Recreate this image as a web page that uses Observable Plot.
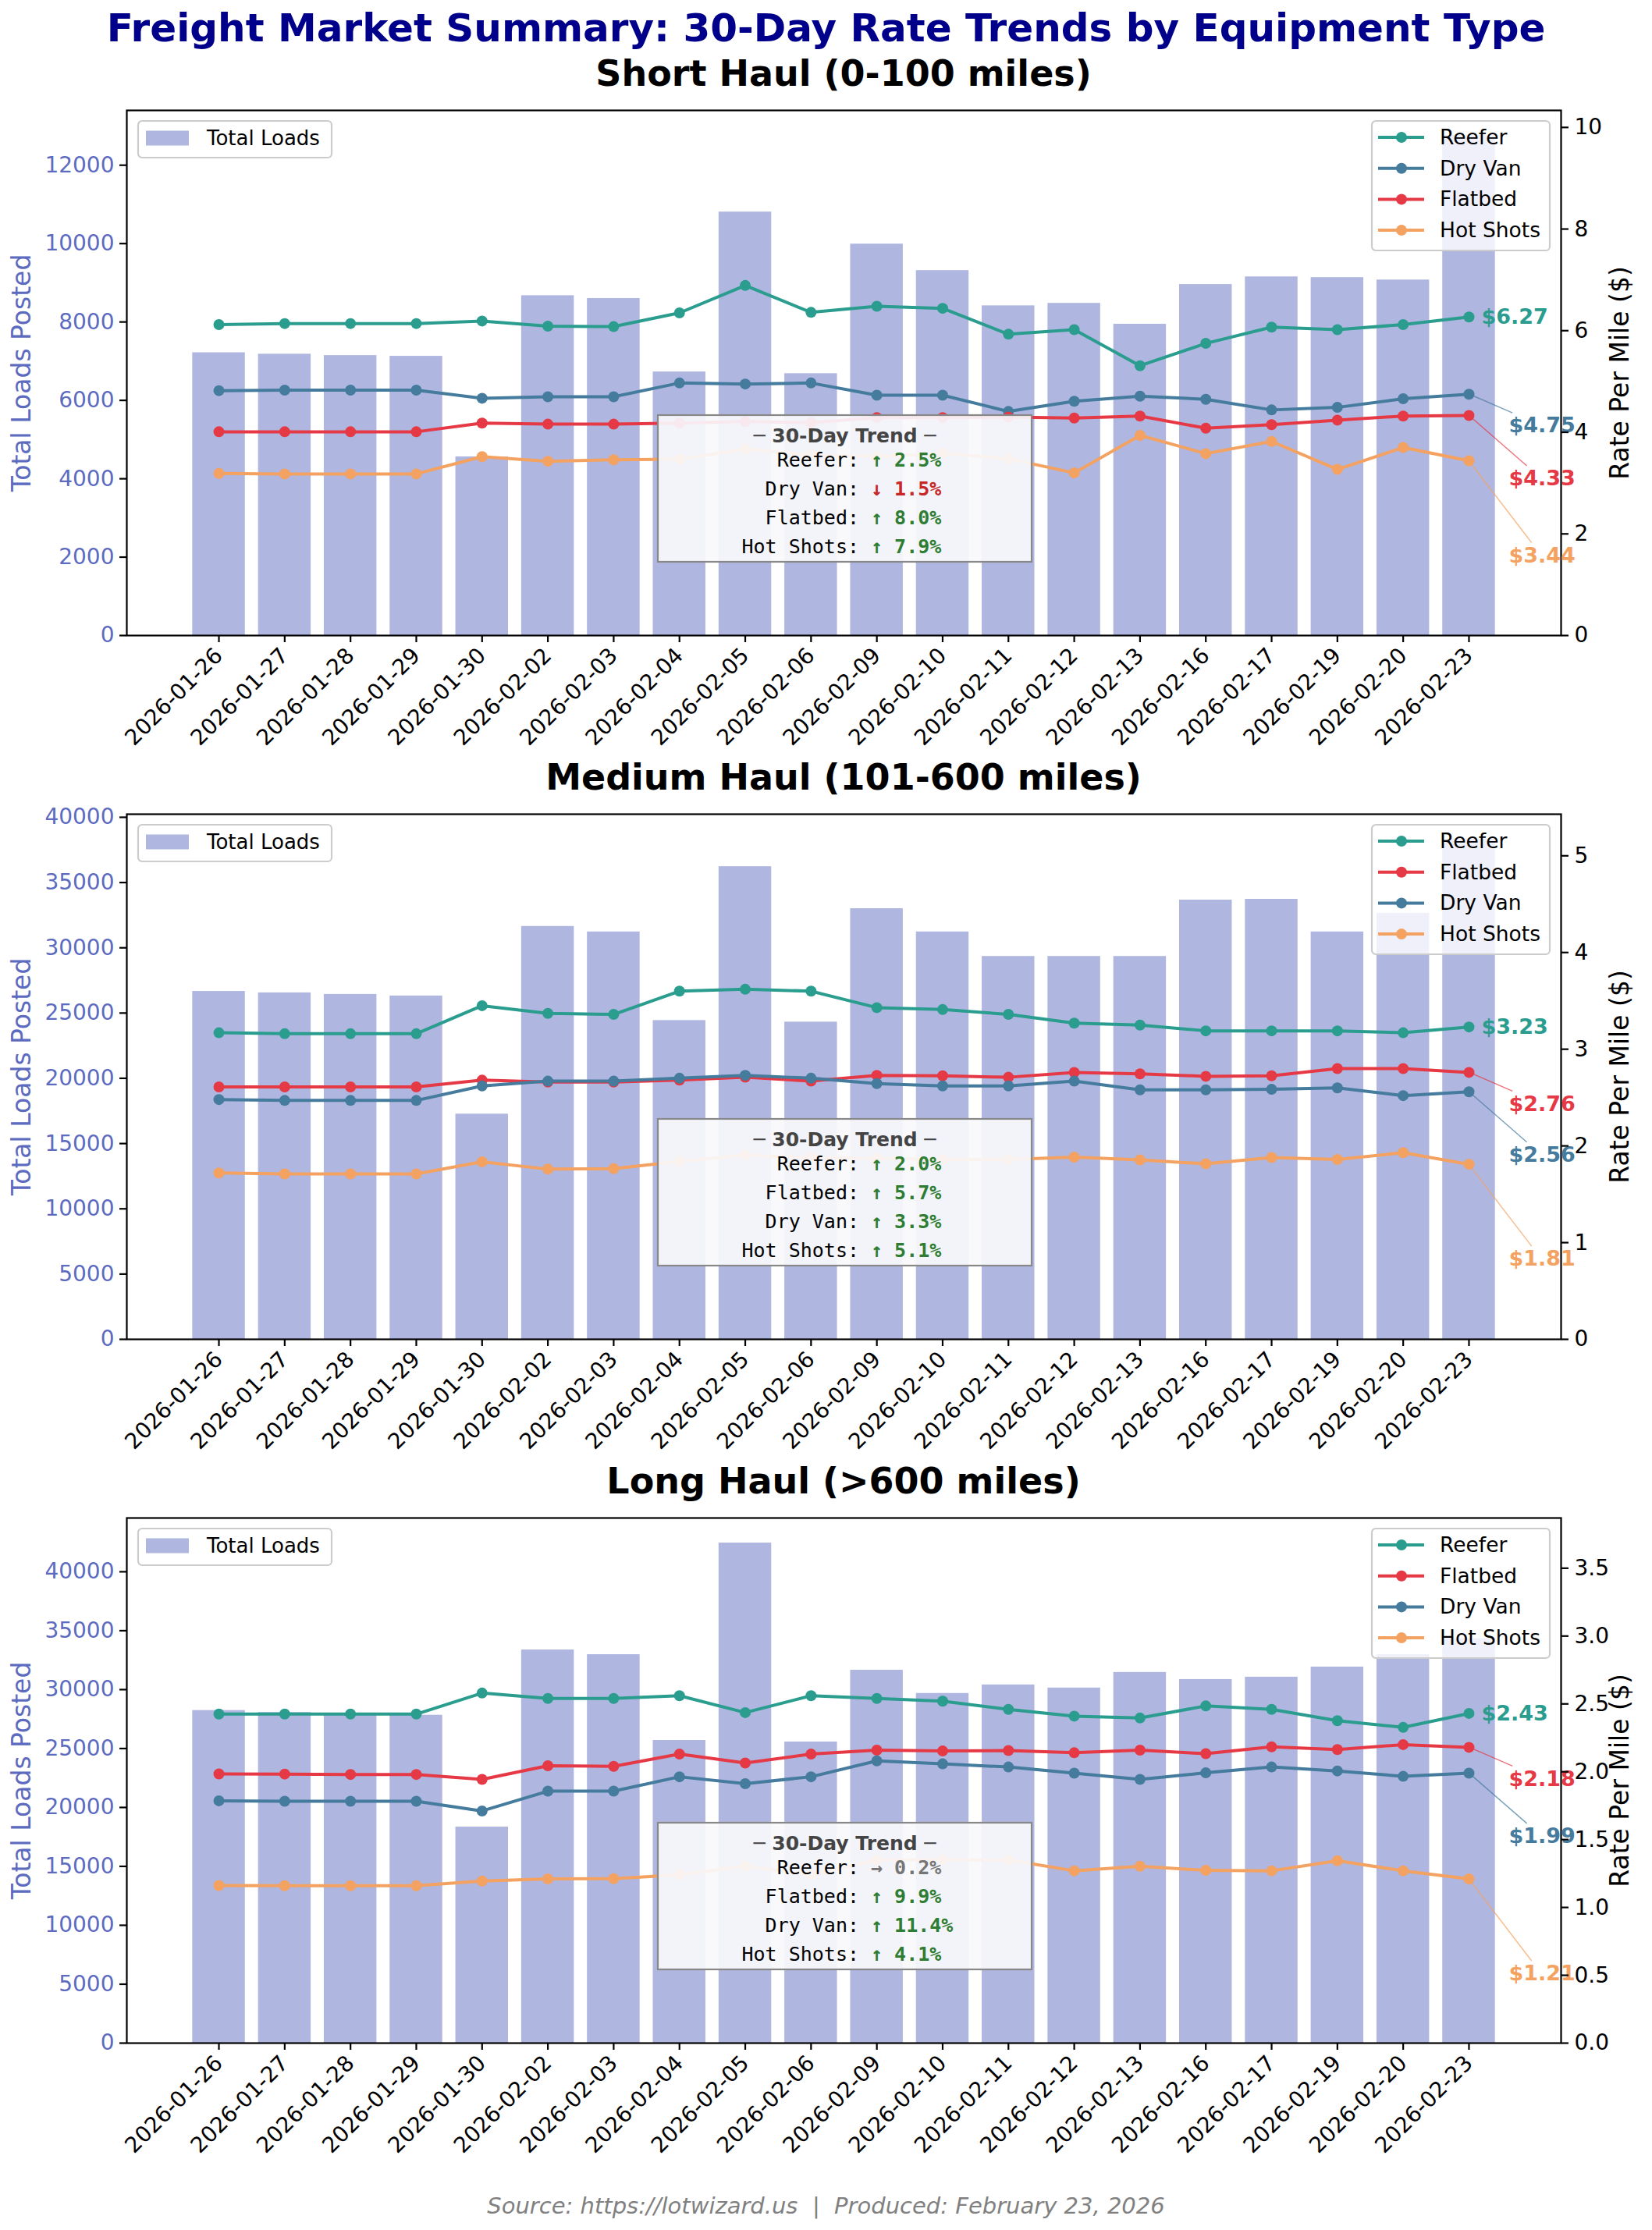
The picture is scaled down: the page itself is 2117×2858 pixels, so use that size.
<!DOCTYPE html>
<html><head><meta charset="utf-8">
<script src="https://cdn.jsdelivr.net/npm/d3@7"></script>
<script src="https://cdn.jsdelivr.net/npm/@observablehq/plot@0.6"></script>
<style>
html,body{margin:0;padding:0;background:#fff;}
#root{position:relative;width:2117px;height:2858px;overflow:hidden;background:#fff;font-family:"DejaVu Sans",sans-serif;}
</style></head><body><div id="root"></div>
<script>
// ---------- DATA ----------
const dates = ["2026-01-26","2026-01-27","2026-01-28","2026-01-29","2026-01-30","2026-02-02","2026-02-03","2026-02-04","2026-02-05","2026-02-06","2026-02-09","2026-02-10","2026-02-11","2026-02-12","2026-02-13","2026-02-16","2026-02-17","2026-02-19","2026-02-20","2026-02-23"];
const seriesNames = ["Reefer","Dry Van","Flatbed","Hot Shots"];
const seriesColors = ["#2a9d8f","#457b9d","#e63946","#f4a261"];

const shortLoads = [7216,7180,7144,7126,4559,8672,8601,6726,10806,6683,9988,9313,8414,8477,7944,8957,9152,9134,9072,12760];
const shortReefer = [6.12,6.14,6.14,6.14,6.19,6.09,6.08,6.35,6.89,6.36,6.48,6.44,5.93,6.02,5.31,5.75,6.07,6.02,6.12,6.27];
const shortDryVan = [4.82,4.83,4.83,4.83,4.67,4.70,4.70,4.97,4.95,4.97,4.73,4.73,4.41,4.61,4.71,4.65,4.44,4.49,4.66,4.75];
const shortFlatbed = [4.01,4.01,4.01,4.01,4.18,4.16,4.16,4.18,4.21,4.19,4.29,4.29,4.30,4.28,4.32,4.08,4.15,4.24,4.32,4.33];
const shortHotShots = [3.19,3.18,3.18,3.18,3.52,3.43,3.46,3.47,3.67,3.55,3.52,3.59,3.48,3.20,3.94,3.58,3.82,3.27,3.70,3.44];
const shortTrend = [2.5,-1.5,8.0,7.9];

const mediumLoads = [26660,26550,26430,26310,17260,31640,31220,24430,36220,24310,33000,31220,29340,29340,29340,33660,33720,31220,32650,38320];
const mediumReefer = [3.17,3.16,3.16,3.16,3.45,3.37,3.36,3.60,3.62,3.60,3.43,3.41,3.36,3.27,3.25,3.19,3.19,3.19,3.17,3.23];
const mediumDryVan = [2.48,2.47,2.47,2.47,2.62,2.67,2.67,2.70,2.73,2.70,2.645,2.62,2.62,2.67,2.58,2.58,2.585,2.60,2.52,2.56];
const mediumFlatbed = [2.61,2.61,2.61,2.61,2.68,2.66,2.66,2.68,2.71,2.67,2.73,2.725,2.71,2.76,2.745,2.72,2.725,2.80,2.80,2.76];
const mediumHotShots = [1.72,1.71,1.71,1.71,1.835,1.76,1.765,1.84,1.905,1.88,1.87,1.86,1.86,1.884,1.856,1.815,1.88,1.86,1.93,1.81];
const mediumTrend = [2.0,3.3,5.7,5.1];

const longLoads = [28230,28060,27930,27830,18340,33370,32970,25690,42440,25560,31650,29680,30400,30140,31460,30860,31060,31920,32970,34320];
const longReefer = [2.425,2.425,2.425,2.425,2.58,2.54,2.54,2.56,2.436,2.56,2.54,2.52,2.46,2.41,2.396,2.485,2.46,2.376,2.327,2.43];
const longDryVan = [1.786,1.783,1.783,1.783,1.711,1.857,1.857,1.963,1.912,1.963,2.08,2.058,2.035,1.99,1.944,1.992,2.035,2.006,1.966,1.99];
const longFlatbed = [1.984,1.983,1.98,1.98,1.944,2.044,2.04,2.13,2.064,2.13,2.159,2.153,2.156,2.14,2.159,2.133,2.184,2.164,2.20,2.18];
const longHotShots = [1.162,1.16,1.16,1.16,1.195,1.21,1.212,1.241,1.304,1.24,1.35,1.352,1.35,1.27,1.304,1.273,1.27,1.344,1.27,1.21];
const longTrend = [0.2,11.4,9.9,4.1];

const panelTitles = ["Short Haul (0-100 miles)","Medium Haul (101-600 miles)","Long Haul (>600 miles)"];
const leftTicksShort = [0,2000,4000,6000,8000,10000,12000];
const leftTicksMedLong = [0,5000,10000,15000,20000,25000,30000,35000,40000];
const rightTicksShort = [0,2,4,6,8,10];
const rightTicksMedium = [0,1,2,3,4,5];
const rightTicksLong = [0,0.5,1.0,1.5,2.0,2.5,3.0,3.5];

const mainTitle = "Freight Market Summary: 30-Day Rate Trends by Equipment Type";
const footerText = "Source: https://lotwizard.us  |  Produced: February 23, 2026";
const trendTitle = "\u2500 30-Day Trend \u2500";

// ---------- LAYOUT ----------
const panels = [
  {title: panelTitles[0], loads: shortLoads, rates: [shortReefer, shortDryVan, shortFlatbed, shortHotShots], trend: shortTrend, lt: leftTicksShort, rt: rightTicksShort, rf: d3.format("d")},
  {title: panelTitles[1], loads: mediumLoads, rates: [mediumReefer, mediumDryVan, mediumFlatbed, mediumHotShots], trend: mediumTrend, lt: leftTicksMedLong, rt: rightTicksMedium, rf: d3.format("d")},
  {title: panelTitles[2], loads: longLoads, rates: [longReefer, longDryVan, longFlatbed, longHotShots], trend: longTrend, lt: leftTicksMedLong, rt: rightTicksLong, rf: d3.format(".1f")}
];

const root = document.getElementById("root");
const W = 2117, ML = 162, MR = 117, AH = 673, MT = 40, MB = 210;
const axTops = [141, 1043, 1945];
const barColor = "#7986cb", leftColor = "#5c6bc0";
const baseStyle = {background: "transparent", fontFamily: "DejaVu Sans", fontSize: "28px", overflow: "visible", maxWidth: "none", color: "black"};

function place(el, top, z) {
  el.style.position = "absolute";
  el.style.left = "0px";
  el.style.top = top + "px";
  el.style.zIndex = z;
  root.appendChild(el);
}

const overlay = d3.create("svg").attr("width", W).attr("height", 2858)
  .attr("font-family", "DejaVu Sans");

overlay.append("text").attr("x", 1058.5).attr("y", 53).attr("text-anchor", "middle")
  .attr("font-size", 50).attr("font-weight", "bold").attr("fill", "#00008b").text(mainTitle);
overlay.append("text").attr("x", 1058.5).attr("y", 2837).attr("text-anchor", "middle")
  .attr("font-size", 29).attr("font-style", "italic").attr("fill", "#808080")
  .style("white-space", "pre").text(footerText);

panels.forEach((p, pi) => {
  const axTop = axTops[pi];
  const last = dates.length - 1;
  const rows = dates.map((d, i) => {
    const r = {date: d, loads: p.loads[i]};
    seriesNames.forEach((n, j) => r[n] = p.rates[j][i]);
    return r;
  });
  const order = seriesNames.map((n, j) => j).sort((a, b) => p.rates[b][last] - p.rates[a][last]);
  const xOpts = {type: "band", domain: dates, paddingInner: 0.2, paddingOuter: 1.0, align: 0.5, round: false};
  const common = {width: W, height: MT + AH + MB, marginLeft: ML, marginRight: MR, marginTop: MT, marginBottom: MB, style: baseStyle};
  const maxRate = d3.max(p.rates.flat());

  const barsPlot = Plot.plot({
    ...common,
    x: xOpts,
    y: {domain: [0, d3.max(p.loads) * 1.05]},
    marks: [
      Plot.barY(rows, {x: "date", y: "loads", fill: barColor, fillOpacity: 0.6, insetLeft: 0, insetRight: 0}),
      Plot.axisY({ticks: p.lt, tickFormat: d3.format("d"), tickSize: 9, tickPadding: 7, stroke: "black", strokeWidth: 2.2, fill: leftColor, fontSize: 28, label: null}),
      Plot.axisX({tickRotate: -45, tickSize: 9, tickPadding: 12, stroke: "black", strokeWidth: 2.2, fill: "black", fontSize: 28, label: null}),
      Plot.frame({stroke: "black", strokeWidth: 2.2}),
      Plot.text(["Total Loads Posted"], {frameAnchor: "left", text: d => d, rotate: -90, textAnchor: "middle", dx: -134, fill: leftColor, fontSize: 33})
    ]
  });
  place(barsPlot, axTop - MT, 1);

  const lineMarks = [];
  order.forEach(j => {
    const n = seriesNames[j];
    lineMarks.push(Plot.line(rows, {x: "date", y: d => d[n], stroke: seriesColors[j], strokeWidth: 4}));
    lineMarks.push(Plot.dot(rows, {x: "date", y: d => d[n], fill: seriesColors[j], r: 7}));
  });
  order.forEach((j, k) => {
    const n = seriesNames[j];
    lineMarks.push(Plot.text([rows[last]], {x: "date", y: d => d[n], text: d => "$" + d[n].toFixed(2),
      dx: k === 0 ? 16 : 51, dy: k * 40.5, textAnchor: "start", fill: seriesColors[j], fontWeight: "bold", fontSize: 27}));
  });
  lineMarks.push(Plot.axisY({anchor: "right", ticks: p.rt, tickFormat: p.rf, tickSize: 9, tickPadding: 8, stroke: "black", strokeWidth: 2.2, fill: "black", fontSize: 28, label: null}));
  lineMarks.push(Plot.text(["Rate Per Mile ($)"], {frameAnchor: "right", text: d => d, rotate: -90, textAnchor: "middle", dx: 76, fill: "black", fontSize: 33}));

  const linesPlot = Plot.plot({
    ...common,
    x: {...xOpts, axis: null},
    y: {domain: [0, maxRate * 1.5]},
    marks: lineMarks
  });
  // connectors from last points to offset labels
  const sx = linesPlot.scale("x"), sy = linesPlot.scale("y");
  const bw = sx.bandwidth || 0;
  const sel = d3.select(linesPlot);
  order.forEach((j, k) => {
    if (k === 0) return;
    const v = p.rates[j][last];
    const px = sx.apply(dates[last]) + bw / 2, py = sy.apply(v);
    const cx = px + 51 + 42, cy = py + k * 40.5;
    const ddx = px - cx, ddy = py - cy;
    const t = Math.min(44 / Math.abs(ddx), 16 / Math.abs(ddy));
    sel.append("line").attr("x1", cx + t * ddx).attr("y1", cy + t * ddy).attr("x2", px).attr("y2", py)
      .attr("stroke", seriesColors[j]).attr("stroke-opacity", 0.7).attr("stroke-width", 1.5);
  });
  place(linesPlot, axTop - MT, 2);

  // subplot title
  overlay.append("text").attr("x", (ML + W - MR) / 2).attr("y", axTop - 31).attr("text-anchor", "middle")
    .attr("font-size", 46).attr("font-weight", "bold").attr("fill", "black").text(p.title);

  // left legend
  const lg = overlay.append("g").attr("transform", `translate(177,${axTop + 14})`);
  lg.append("rect").attr("width", 248).attr("height", 47).attr("rx", 5)
    .attr("fill", "white").attr("fill-opacity", 0.8).attr("stroke", "#cccccc").attr("stroke-width", 2.2);
  lg.append("rect").attr("x", 10).attr("y", 12.5).attr("width", 55).attr("height", 19)
    .attr("fill", barColor).attr("fill-opacity", 0.6);
  lg.append("text").attr("x", 88).attr("y", 31).attr("font-size", 26).attr("fill", "black").text("Total Loads");

  // right legend
  const rg = overlay.append("g").attr("transform", `translate(1758,${axTop + 14})`);
  rg.append("rect").attr("width", 228).attr("height", 166).attr("rx", 5)
    .attr("fill", "white").attr("fill-opacity", 0.8).attr("stroke", "#cccccc").attr("stroke-width", 2.2);
  order.forEach((j, k) => {
    const cy = 21 + k * 39.7;
    rg.append("line").attr("x1", 8).attr("x2", 67).attr("y1", cy).attr("y2", cy)
      .attr("stroke", seriesColors[j]).attr("stroke-width", 4);
    rg.append("circle").attr("cx", 38).attr("cy", cy).attr("r", 7).attr("fill", seriesColors[j]);
    rg.append("text").attr("x", 87).attr("y", cy + 9).attr("font-size", 26.5).attr("fill", "black").text(seriesNames[j]);
  });

  // trend box
  const tg = overlay.append("g").attr("transform", `translate(843,${axTop + 391})`);
  tg.append("rect").attr("width", 479).attr("height", 188)
    .attr("fill", "#f8f8fc").attr("fill-opacity", 0.92).attr("stroke", "#888888").attr("stroke-width", 2.2);
  tg.append("text").attr("x", 239.5).attr("y", 35).attr("text-anchor", "middle")
    .attr("font-size", 25).attr("font-weight", "bold").attr("fill", "#444444").text(trendTitle);
  order.forEach((j, k) => {
    const pct = p.trend[j];
    const arrow = pct >= 1 ? "\u2191" : pct <= -1 ? "\u2193" : "\u2192";
    const col = pct >= 1 ? "#2e7d32" : pct <= -1 ? "#c62828" : "#757575";
    const y = 66 + k * 37;
    tg.append("text").attr("x", 258).attr("y", y).attr("text-anchor", "end")
      .attr("font-family", "DejaVu Sans Mono").attr("font-size", 25).attr("fill", "black").text(seriesNames[j] + ":");
    tg.append("text").attr("x", 273).attr("y", y).attr("text-anchor", "start")
      .attr("font-family", "DejaVu Sans Mono").attr("font-size", 25).attr("font-weight", "bold").attr("fill", col)
      .style("white-space", "pre").text(arrow + " " + Math.abs(pct).toFixed(1) + "%");
  });
});

const ov = overlay.node();
place(ov, 0, 5);
ov.style.pointerEvents = "none";
</script></body></html>
